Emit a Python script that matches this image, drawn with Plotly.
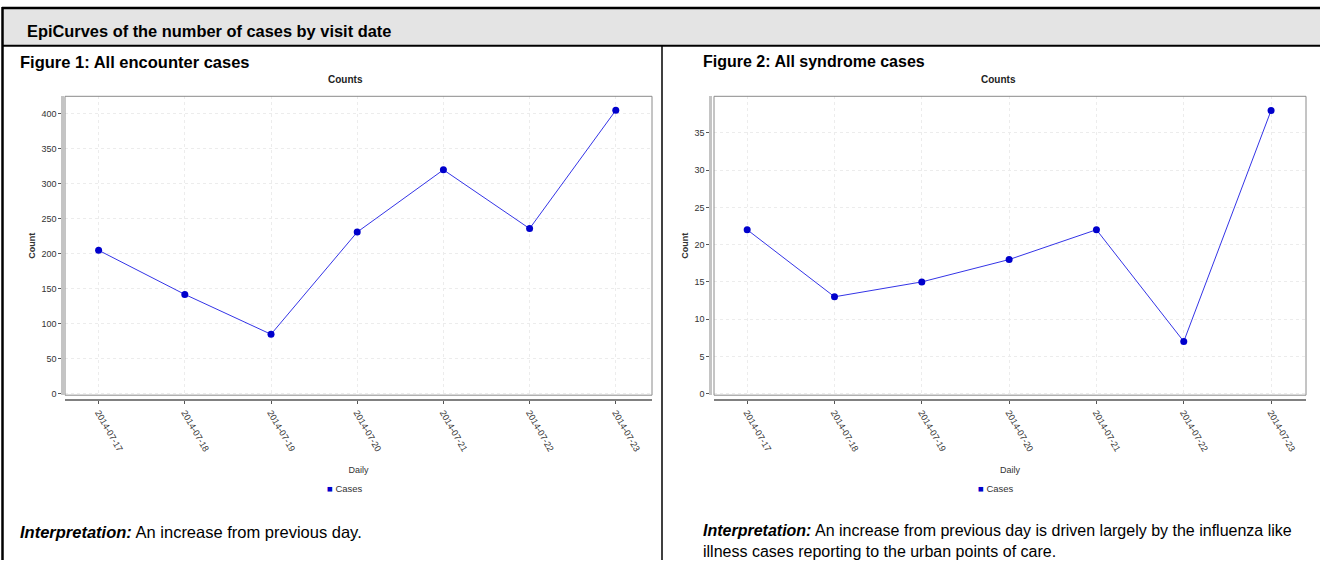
import plotly.graph_objects as go

W, H = 1320, 564

dates = ["2014-07-17", "2014-07-18", "2014-07-19", "2014-07-20",
         "2014-07-21", "2014-07-22", "2014-07-23"]
encounter_cases = [205, 142, 85, 231, 320, 236, 405]
syndrome_cases = [22, 13, 15, 18, 22, 7, 38]
enc_ticks = [0, 50, 100, 150, 200, 250, 300, 350, 400]
syn_ticks = [0, 5, 10, 15, 20, 25, 30, 35]

header_text = "EpiCurves of the number of cases by visit date"
fig1_title = "Figure 1: All encounter cases"
fig2_title = "Figure 2: All syndrome cases"
interp1 = "<b><i>Interpretation:</i></b> An increase from previous day."
interp2 = ("<b><i>Interpretation:</i></b> An increase from previous day is driven largely by the influenza like"
           "<br>illness cases reporting to the urban points of care.")
legend_label = "Cases"

SANS = "Liberation Sans, Arial, sans-serif"


def px(x):
    return x / W


def py(y):
    return 1 - y / H


LINE_C = "#3434e6"
MARK_C = "#0000cc"

fig = go.Figure()
idx = list(range(len(dates)))

fig.add_trace(go.Scatter(x=idx, y=encounter_cases, mode="lines+markers",
                         line=dict(color=LINE_C, width=1),
                         marker=dict(color=MARK_C, size=7),
                         xaxis="x", yaxis="y", showlegend=False, name=legend_label))
fig.add_trace(go.Scatter(x=idx, y=syndrome_cases, mode="lines+markers",
                         line=dict(color=LINE_C, width=1),
                         marker=dict(color=MARK_C, size=7),
                         xaxis="x2", yaxis="y2", showlegend=False, name=legend_label))

box_top, box_bot = 97, 398
xline_y = 403
tickfont = dict(family=SANS, size=9, color="#333333")
grid = dict(showgrid=True, gridcolor="#ececec", griddash="dot", gridwidth=1)


def xaxis(left, right, yl):
    return dict(domain=[px(left), px(right)], anchor="free", position=py(yl),
                tickmode="array", tickvals=idx, ticktext=dates, tickangle=60,
                tickfont=tickfont, ticks="outside", ticklen=3, tickcolor="#555",
                showline=True, linecolor="#808080", linewidth=1.5,
                zeroline=False, **grid,
                title=dict(text="Daily", font=dict(family=SANS, size=9, color="#333"), standoff=13))


def yaxis(xl, rng, ticks):
    return dict(domain=[py(box_bot), py(box_top)], anchor="free", position=px(xl),
                range=rng, tickmode="array", tickvals=ticks,
                tickfont=tickfont, ticks="outside", ticklen=3, tickcolor="#555",
                showline=True, linecolor="#c4c4c4", linewidth=2.5,
                zeroline=False, **grid,
                title=dict(text="<b>Count</b>", font=dict(family=SANS, size=9, color="#333"), standoff=3))


fig.update_layout(
    width=W, height=H,
    margin=dict(l=0, r=0, t=0, b=0),
    paper_bgcolor="white", plot_bgcolor="white",
    showlegend=False,
    xaxis=dict(xaxis(65, 652, xline_y), range=[-0.39, 6.42]),
    yaxis=yaxis(62, [-2, 425], enc_ticks),
    xaxis2=dict(xaxis(714, 1306, xline_y), range=[-0.38, 6.40]),
    yaxis2=yaxis(710, [-0.2, 39.9], syn_ticks),
)

shapes = [
    # header band
    dict(type="rect", xref="paper", yref="paper", x0=px(3), x1=px(1320), y0=py(46), y1=py(8),
         fillcolor="#e4e4e4", line=dict(width=0), layer="below"),
    dict(type="line", xref="paper", yref="paper", x0=px(2), x1=px(1320), y0=py(8), y1=py(8),
         line=dict(color="black", width=2.5)),
    dict(type="line", xref="paper", yref="paper", x0=px(2), x1=px(1320), y0=py(46), y1=py(46),
         line=dict(color="black", width=2)),
    dict(type="line", xref="paper", yref="paper", x0=px(2.5), x1=px(2.5), y0=py(7), y1=py(564),
         line=dict(color="black", width=2.5)),
    dict(type="line", xref="paper", yref="paper", x0=px(662), x1=px(662), y0=py(46), y1=py(564),
         line=dict(color="black", width=1.5)),
    # plot boxes
    dict(type="rect", xref="x domain", yref="y domain", x0=0, x1=1, y0=0, y1=1,
         line=dict(color="#8a8a8a", width=1)),
    dict(type="rect", xref="x2 domain", yref="y2 domain", x0=0, x1=1, y0=0, y1=1,
         line=dict(color="#8a8a8a", width=1)),
]
fig.update_layout(shapes=shapes)


def ann(text, x, y, size, bold=False, xanchor="left", color="black"):
    return dict(text=f"<b>{text}</b>" if bold else text, x=px(x), y=py(y),
                xref="paper", yref="paper", xanchor=xanchor, yanchor="middle",
                showarrow=False, align="left", font=dict(family=SANS, size=size, color=color))


legend_html = f"<span style='color:{MARK_C}'>■</span> {legend_label}"

annotations = [
    ann(header_text, 25, 31, 16.4, bold=True),
    ann(fig1_title, 18, 62, 16.5, bold=True),
    ann(fig2_title, 701, 62, 16, bold=True),
    ann("Counts", 345, 80, 10, bold=True, xanchor="center", color="#222"),
    ann("Counts", 998, 80, 10, bold=True, xanchor="center", color="#222"),
    ann(legend_html, 345, 492, 9.5, xanchor="center", color="#333"),
    ann(legend_html, 996, 492, 9.5, xanchor="center", color="#333"),
    ann(interp1, 18, 536, 16.5),
    dict(text=interp2, x=px(701), y=py(524), xref="paper", yref="paper", xanchor="left",
         yanchor="top", showarrow=False, align="left",
         font=dict(family=SANS, size=16, color="black")),
]
fig.update_layout(annotations=annotations)

fig.write_html("out.html",
               config={"displayModeBar": False},
               post_script="document.body.style.margin='0';document.body.style.padding='0';"
                           "document.body.style.overflow='hidden';")
